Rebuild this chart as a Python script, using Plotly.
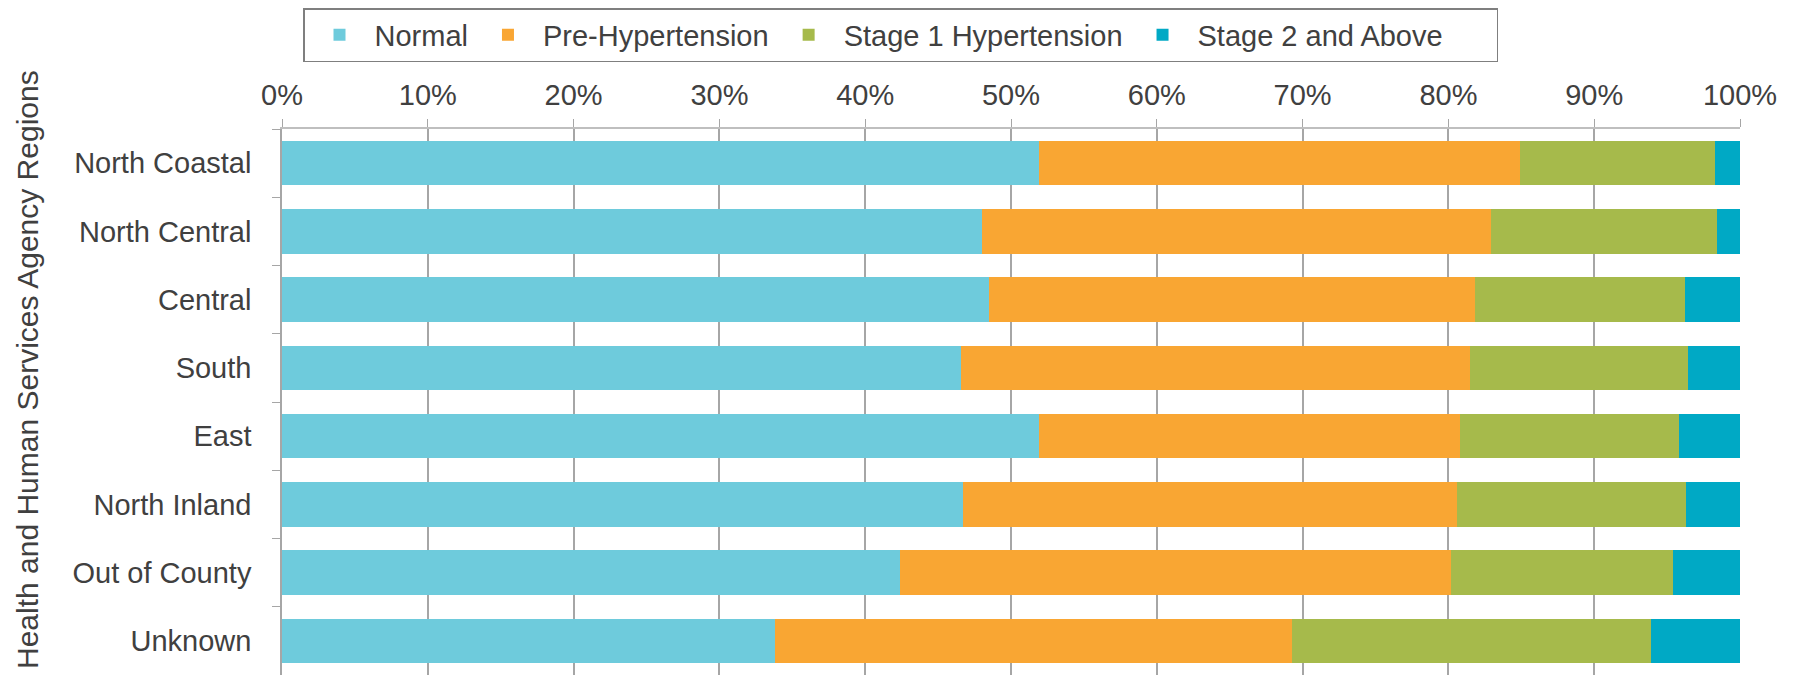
import plotly.graph_objects as go

regions = ["North Coastal", "North Central", "Central", "South",
           "East", "North Inland", "Out of County", "Unknown"]

normal = [51.9, 48.0, 48.5, 46.6, 51.9, 46.7, 42.4, 33.8]
pre_hypertension = [33.0, 34.9, 33.3, 34.9, 28.9, 33.9, 37.8, 35.5]
stage1 = [13.4, 15.5, 14.4, 14.9, 15.0, 15.7, 15.2, 24.6]
stage2 = [1.7, 1.6, 3.8, 3.6, 4.2, 3.7, 4.6, 6.1]

x_ticks = [0, 10, 20, 30, 40, 50, 60, 70, 80, 90, 100]
x_tick_labels = [f"{v}%" for v in x_ticks]

series = [
    ("Normal", normal, "#6ECBDC"),
    ("Pre-Hypertension", pre_hypertension, "#F9A633"),
    ("Stage 1 Hypertension", stage1, "#A6BA4B"),
    # 末尾の空白で凡例枠の右余白を広げる
    ("Stage 2 and Above" + "\u00a0" * 6, stage2, "#00A9C5"),
]

FONT = "Arial, Liberation Sans, sans-serif"
TEXT = "#404040"

# ページ本体の既定余白(8px)ぶんを差し引いたサイズ
PAGE_PAD = 8
W, H = 1797 - PAGE_PAD, 675 - PAGE_PAD
PLOT_W, PLOT_H = 1458, 546

fig = go.Figure()
for name, vals, color in series:
    fig.add_trace(go.Bar(
        y=regions,
        x=vals,
        name=name,
        orientation="h",
        marker=dict(color=color, line=dict(width=0)),
        hovertemplate="%{y}: %{x:.1f}%<extra>" + name.strip() + "</extra>",
    ))

fig.update_layout(
    barmode="stack",
    bargap=0.35,
    width=W,
    height=H,
    paper_bgcolor="white",
    plot_bgcolor="white",
    margin=dict(l=282 - PAGE_PAD, r=W - (282 - PAGE_PAD) - PLOT_W,
                t=129 - PAGE_PAD, b=0),
    font=dict(family=FONT, size=29, color=TEXT),
    legend=dict(
        orientation="h",
        x=(303 - 282) / PLOT_W,
        xanchor="left",
        y=(675 - 8) / PLOT_H,
        yanchor="top",
        bordercolor="#7F7F7F",
        borderwidth=1.5,
        bgcolor="white",
        itemwidth=60,
        font=dict(family=FONT, size=29, color=TEXT),
        traceorder="normal",
    ),
    showlegend=True,
)

fig.update_xaxes(
    side="top",
    range=[0, 100],
    tickvals=x_ticks,
    ticktext=x_tick_labels,
    ticks="outside",
    ticklen=8,
    tickcolor="#A6A6A6",
    ticklabelstandoff=3,
    showgrid=True,
    gridcolor="#A6A6A6",
    gridwidth=1.5,
    showline=True,
    linecolor="#BFBFBF",
    linewidth=1.5,
    zeroline=False,
    automargin=False,
    tickfont=dict(family=FONT, size=29, color=TEXT),
)

fig.update_yaxes(
    categoryorder="array",
    categoryarray=regions,
    autorange="reversed",
    ticks="outside",
    tickson="boundaries",
    ticklen=8,
    tickcolor="#A6A6A6",
    ticklabelstandoff=23,
    showgrid=False,
    showline=True,
    linecolor="#A6A6A6",
    linewidth=1.5,
    automargin=False,
    tickfont=dict(family=FONT, size=29, color=TEXT),
)

# 縦軸タイトル（図全体の中央寄り）
fig.add_annotation(
    text="Health and Human Services Agency Regions",
    xref="paper", yref="paper",
    x=0, y=(675 - 370) / PLOT_H,
    xanchor="center", yanchor="middle",
    xshift=27 - 282,
    textangle=-90,
    showarrow=False,
    font=dict(family=FONT, size=30, color=TEXT),
)

fig.write_html("out.html")
